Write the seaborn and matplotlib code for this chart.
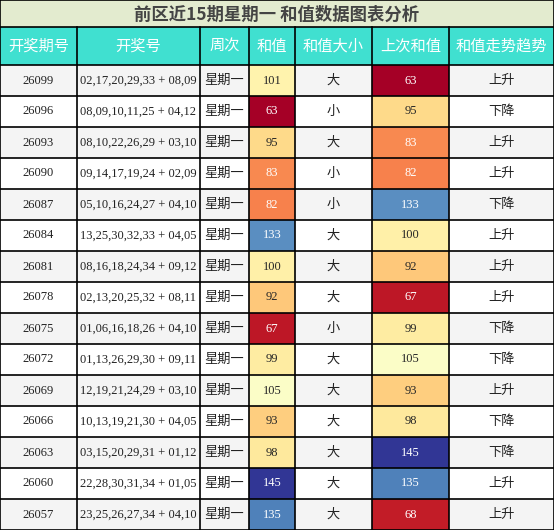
import matplotlib
matplotlib.use("Agg")
import matplotlib.pyplot as plt
import seaborn as sns
import numpy as np
from matplotlib.patches import Rectangle

title = "前区近15期星期一 和值数据图表分析"
headers = ["开奖期号", "开奖号", "周次", "和值", "和值大小", "上次和值", "和值走势趋势"]
issues = ["26099","26096","26093","26090","26087","26084","26081","26078","26075","26072","26069","26066","26063","26060","26057"]
numbers = ["02,17,20,29,33 + 08,09","08,09,10,11,25 + 04,12","08,10,22,26,29 + 03,10","09,14,17,19,24 + 02,09",
           "05,10,16,24,27 + 04,10","13,25,30,32,33 + 04,05","08,16,18,24,34 + 09,12","02,13,20,25,32 + 08,11",
           "01,06,16,18,26 + 04,10","01,13,26,29,30 + 09,11","12,19,21,24,29 + 03,10","10,13,19,21,30 + 04,05",
           "03,15,20,29,31 + 01,12","22,28,30,31,34 + 01,05","23,25,26,27,34 + 04,10"]
weekday = ["星期一"] * 15
sums = [101, 63, 95, 83, 82, 133, 100, 92, 67, 99, 105, 93, 98, 145, 135]
size = ["大","小","大","小","小","大","大","大","小","大","大","大","大","大","大"]
prev_sums = [63, 95, 83, 82, 133, 100, 92, 67, 99, 105, 93, 98, 145, 135, 68]
trend = ["上升","下降","上升","上升","下降","上升","上升","上升","下降","下降","上升","下降","下降","上升","上升"]

W, H = 554, 530
xs = [0, 77, 200, 249, 295, 372, 449, 554]
title_h, head_h = 27, 65
row_h = (H - head_h) / 15
cjk = ["Noto Sans CJK SC", "DejaVu Sans"]
serif = ["Liberation Serif"]

fig = plt.figure(figsize=(W/100, H/100), dpi=100)
ax = fig.add_axes([0, 0, 1, 1])
ax.set_xlim(0, W); ax.set_ylim(H, 0); ax.axis("off")

ax.add_patch(Rectangle((0, 0), W, title_h, facecolor="#e3ebcf", edgecolor="none"))
ax.text(W/2, title_h/2 + 1, title, ha="center", va="center", fontsize=12.5, fontweight="bold", color="#444444", family=cjk)
ax.add_patch(Rectangle((0, title_h), W, head_h - title_h, facecolor="#40e0d0", edgecolor="none"))
for i, h in enumerate(headers):
    ax.text((xs[i]+xs[i+1])/2, (title_h+head_h)/2, h, ha="center", va="center", fontsize=11, color="white", family=cjk)

cols = [issues, numbers, weekday, None, size, None, trend]
for r in range(15):
    y0 = head_h + r*row_h
    bg = "#f4f4f4" if r % 2 == 0 else "white"
    ax.add_patch(Rectangle((0, y0), W, row_h, facecolor=bg, edgecolor="none"))
    for c, col in enumerate(cols):
        if col is None:
            continue
        fam = serif if c < 2 else cjk
        ax.text((xs[c]+xs[c+1])/2, y0 + row_h/2, col[r], ha="center", va="center",
                fontsize=9 if c < 2 else 9.5, color="#222222", family=fam)

# colored columns via seaborn heatmaps
for c, vals in [(3, sums), (5, prev_sums)]:
    hax = fig.add_axes([xs[c]/W, 0, (xs[c+1]-xs[c])/W, (H-head_h)/H])
    sns.heatmap(np.array(vals).reshape(-1, 1), ax=hax, cmap="RdYlBu", vmin=63, vmax=145, cbar=False,
                annot=True, fmt="d", annot_kws={"fontsize": 9, "family": "Liberation Serif"},
                xticklabels=False, yticklabels=False)
    hax.axis("off")

# grid lines on top
lax = fig.add_axes([0, 0, 1, 1], zorder=10)
lax.set_xlim(0, W); lax.set_ylim(H, 0); lax.axis("off"); lax.patch.set_alpha(0)
for yy in [title_h, head_h] + [head_h + k*row_h for k in range(1, 16)] + [0]:
    lax.plot([0, W], [yy, yy], color="black", lw=1.2)
for xx in xs:
    lax.plot([xx, xx], [title_h if xx not in (0, W) else 0, H], color="black", lw=1.2)

fig.savefig("out.png", dpi=100)
